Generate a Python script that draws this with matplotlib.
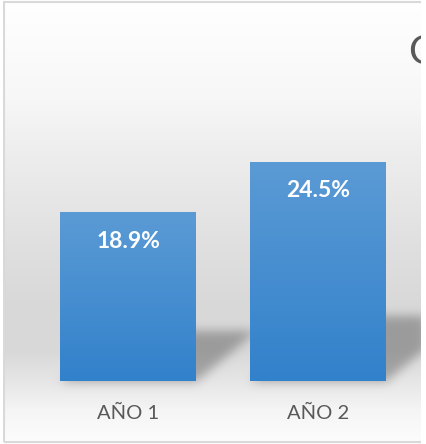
import numpy as np
import matplotlib
matplotlib.use("Agg")
import matplotlib.pyplot as plt
from matplotlib.patches import Rectangle
from matplotlib.colors import LinearSegmentedColormap

# ---- data ----
categories = ["AÑO 1", "AÑO 2"]
values = [18.9, 24.5]
value_labels = ["18.9%", "24.5%"]
title_visible = "C"

W, H = 426, 444
DPI = 100
plt.rcParams['font.family'] = ['Lato', 'DejaVu Sans']

fig = plt.figure(figsize=(W / DPI, H / DPI), dpi=DPI)
fig.patch.set_facecolor("white")
ax = fig.add_axes([0, 0, 1, 1])
ax.set_axis_off()

# scale: category spacing 190 px, bar centre 1 at x=128 px; 8.94 px per unit, baseline at 381 px from top
xs = np.arange(len(categories))
ax.set_xlim(-128 / 190, (W - 128) / 190)
ax.set_ylim(-(H - 381) / 8.94, 381 / 8.94)

# bars (face drawn by gradient)
bars = ax.bar(xs, values, width=136 / 190, color="none", edgecolor="none", zorder=3)

fig.canvas.draw()

# ---- background gradient (pixel rows, top = 0) ----
rows = np.arange(H)
stops_y = [0, 100, 150, 250, 300, 350, 381, 410, 440, 444]
stops_v = [255, 247, 238, 223, 217, 216, 230, 245, 252, 253]
col = np.interp(rows, stops_y, stops_v) / 255.0
bg = np.repeat(col[:, None], W, axis=1)

# ---- perspective shadows derived from bar geometry ----
shadow = np.zeros((H, W))
yy, xx = np.mgrid[0:H, 0:W]
for b in bars:
    (px0, py0), (px1, py1) = ax.transData.transform([(b.get_x(), 0), (b.get_x() + b.get_width(), b.get_height())])
    ybot = H - py0
    hpx = py1 - py0
    rise = 0.30 * hpx
    skew = 0.36 * hpx
    t = (ybot - yy) / rise
    inside = (t >= 0) & (t <= 1)
    left = px0 + t * skew
    right = px1 + t * skew
    mask = inside & (xx >= left) & (xx <= right)
    shadow = np.maximum(shadow, mask * 0.28)

def blur(a, sigma):
    r = int(3 * sigma)
    k = np.exp(-0.5 * (np.arange(-r, r + 1) / sigma) ** 2)
    k /= k.sum()
    a = np.apply_along_axis(lambda m: np.convolve(m, k, mode="same"), 0, a)
    a = np.apply_along_axis(lambda m: np.convolve(m, k, mode="same"), 1, a)
    return a

shadow = blur(shadow, 5.0)
bg = bg * (1 - shadow)
rgb = np.dstack([bg, bg, bg])
ax.imshow(rgb, extent=(0, 1, 0, 1), transform=ax.transAxes, aspect="auto",
          origin="upper", zorder=0, interpolation="bilinear")

# ---- gradient-filled bars ----
cmap = LinearSegmentedColormap.from_list("barg", ["#3281cb", "#5b9bd5"])
grad = np.linspace(0, 1, 256)[:, None]
for b in bars:
    x0, w, h = b.get_x(), b.get_width(), b.get_height()
    im = ax.imshow(grad, cmap=cmap, extent=(x0, x0 + w, 0, h), origin="lower",
                   aspect="auto", zorder=3, interpolation="bilinear")
    im.set_clip_path(b)

# value labels
for b, lab in zip(bars, value_labels):
    ax.annotate(lab, (b.get_x() + b.get_width() / 2, b.get_height()),
                xytext=(0, -29 * 72 / DPI), textcoords="offset points",
                ha="center", va="center", color="white", fontsize=16.5,
                fontweight="bold", zorder=5)

# category labels
for x, c in zip(xs, categories):
    ax.text(x, (H - 413) / H, c, transform=ax.get_xaxis_transform(),
            ha="center", va="center", color="#595959", fontsize=14.5, zorder=5)

# title (cropped at the chart's right edge, as in the reference)
fig.text(408 / W, 1 - 53 / H, title_visible, ha="left", va="center",
         color="#595959", fontsize=29, zorder=5)

# chart border and crop strip
ax.add_patch(Rectangle((3.5 / W, 1 - 441.5 / H), 1, (441.5 - 2.5) / H, transform=ax.transAxes,
                       fill=False, edgecolor="#d9d9d9", lw=1.5, zorder=6, clip_on=False))
fig.patches.append(Rectangle((421 / W, 0), 5 / W, 1, transform=fig.transFigure,
                             facecolor="white", edgecolor="none", zorder=10))
fig.patches.append(Rectangle((0, 0), 2.5 / W, 1, transform=fig.transFigure,
                             facecolor="white", edgecolor="none", zorder=10))

fig.savefig("out.png", dpi=DPI)
